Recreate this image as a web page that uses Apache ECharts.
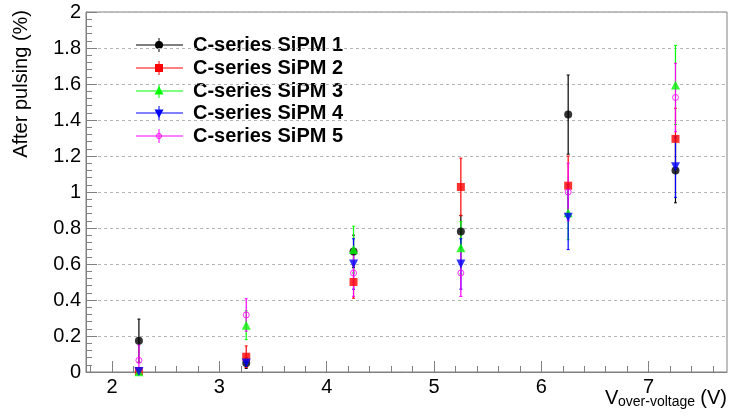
<!DOCTYPE html>
<html>
<head>
<meta charset="utf-8">
<script src="https://cdn.jsdelivr.net/npm/echarts@6/dist/echarts.min.js"></script>
<style>
  html, body { margin: 0; padding: 0; background: #fff; }
  #chart { width: 729px; height: 419px; }
</style>
</head>
<body>
<div id="chart"></div>
<script>
// over-voltage points (V)
const overVoltage = [2.25, 3.25, 4.25, 5.25, 6.25, 7.25]
const xTickLabels = [2, 3, 4, 5, 6, 7]

const seriesNames = ['C-series SiPM 1', 'C-series SiPM 2', 'C-series SiPM 3', 'C-series SiPM 4', 'C-series SiPM 5']

// after pulsing (%) and its error, one pair per SiPM
const sipm1 = [0.174, 0.05, 0.67, 0.78, 1.43, 1.12]
const sipm1Err = [0.12, 0.03, 0.09, 0.09, 0.22, 0.18]
const sipm2 = [0.005, 0.085, 0.50, 1.028, 1.035, 1.295]
const sipm2Err = [0.005, 0.06, 0.09, 0.16, 0.165, 0.17]
const sipm3 = [0.002, 0.26, 0.68, 0.69, 0.885, 1.595]
const sipm3Err = [0.002, 0.08, 0.13, 0.145, 0.15, 0.22]
const sipm4 = [0.003, 0.05, 0.60, 0.60, 0.86, 1.14]
const sipm4Err = [0.003, 0.02, 0.14, 0.14, 0.18, 0.17]
const sipm5 = [0.065, 0.317, 0.55, 0.55, 1.0, 1.525]
const sipm5Err = [0.085, 0.09, 0.13, 0.13, 0.16, 0.19]

const values = [sipm1, sipm2, sipm3, sipm4, sipm5]
const errors = [sipm1Err, sipm2Err, sipm3Err, sipm4Err, sipm5Err]

const colors = ['#000000', '#ff0000', '#00ff00', '#0000ff', '#ff00ff']
const markers = [
  { symbol: 'circle', size: 8, rotate: 0, fill: true },
  { symbol: 'rect', size: 8, rotate: 0, fill: true },
  { symbol: 'triangle', size: 9, rotate: 0, fill: true },
  { symbol: 'triangle', size: 9, rotate: 180, fill: true },
  { symbol: 'circle', size: 6, rotate: 0, fill: false }
]

const FONT = 'Liberation Sans, Arial, Helvetica, sans-serif'
const AXIS_COLOR = '#808080'

const minorX = []
for (let v = 1.8; v < 7.75; v += 0.2) minorX.push(Math.round(v * 10) / 10)

const chart = echarts.init(document.getElementById('chart'))

const errorBar = (color) => (params, api) => {
  const x = api.value(0)
  const y = api.value(1)
  const e = api.value(2)
  const top = api.coord([x, y + e])
  const bot = api.coord([x, y - e])
  return {
    type: 'group',
    children: [
      { type: 'line', shape: { x1: top[0], y1: top[1], x2: bot[0], y2: bot[1] }, style: { stroke: color, lineWidth: 1.2 } },
      { type: 'line', shape: { x1: top[0] - 1.5, y1: top[1], x2: top[0] + 1.5, y2: top[1] }, style: { stroke: color, lineWidth: 1 } },
      { type: 'line', shape: { x1: bot[0] - 1.5, y1: bot[1], x2: bot[0] + 1.5, y2: bot[1] }, style: { stroke: color, lineWidth: 1 } }
    ]
  }
}

const series = []
values.forEach((vals, i) => {
  const data = overVoltage.map((x, j) => [x, vals[j], errors[i][j]])
  series.push({
    type: 'custom',
    name: seriesNames[i] + ' err',
    xAxisIndex: 0,
    clip: true,
    renderItem: errorBar(colors[i]),
    data: data,
    silent: true
  })
  const m = markers[i]
  series.push({
    type: 'scatter',
    name: seriesNames[i],
    xAxisIndex: 0,
    clip: true,
    symbol: m.symbol,
    symbolSize: m.size,
    symbolRotate: m.rotate,
    itemStyle: m.fill
      ? { color: colors[i] }
      : { color: 'rgba(0,0,0,0)', borderColor: colors[i], borderWidth: 1 },
    data: data.map(d => [d[0], d[1]]),
    silent: true
  })
})

// legend drawn as graphics: line, vertical error tick, marker, text
const legendX = 136
const legendY = [45, 68, 91, 113, 136]
const legendGraphics = []
seriesNames.forEach((name, i) => {
  const y = legendY[i]
  const c = colors[i]
  const cx = 159
  legendGraphics.push({ type: 'line', shape: { x1: legendX, y1: y, x2: legendX + 47, y2: y }, style: { stroke: c, lineWidth: 1 } })
  legendGraphics.push({ type: 'line', shape: { x1: cx, y1: y - 7, x2: cx, y2: y + 7 }, style: { stroke: c, lineWidth: 1 } })
  if (i === 0) {
    legendGraphics.push({ type: 'circle', shape: { cx: cx, cy: y, r: 4 }, style: { fill: c } })
  } else if (i === 1) {
    legendGraphics.push({ type: 'rect', shape: { x: cx - 4, y: y - 4, width: 8, height: 8 }, style: { fill: c } })
  } else if (i === 2) {
    legendGraphics.push({ type: 'polygon', shape: { points: [[cx, y - 5], [cx + 4.5, y + 3.5], [cx - 4.5, y + 3.5]] }, style: { fill: c } })
  } else if (i === 3) {
    legendGraphics.push({ type: 'polygon', shape: { points: [[cx, y + 5], [cx + 4.5, y - 3.5], [cx - 4.5, y - 3.5]] }, style: { fill: c } })
  } else {
    legendGraphics.push({ type: 'circle', shape: { cx: cx, cy: y, r: 2.5 }, style: { fill: 'rgba(0,0,0,0)', stroke: c, lineWidth: 1 } })
  }
  legendGraphics.push({
    type: 'text', x: 193, y: y,
    style: { text: name, fill: '#000', font: 'bold 20px ' + FONT, textAlign: 'left', textVerticalAlign: 'middle' }
  })
})

const option = {
  animation: false,
  backgroundColor: '#fff',
  grid: {
    left: 86, top: 12, right: 2, bottom: 47,
    show: true, borderColor: AXIS_COLOR, borderWidth: 1, backgroundColor: 'transparent'
  },
  xAxis: [
    {
      type: 'value',
      min: 1.757,
      max: 7.73,
      axisLine: { show: true, lineStyle: { color: AXIS_COLOR } },
      axisTick: { show: true, inside: true, length: 11, customValues: xTickLabels, lineStyle: { color: AXIS_COLOR } },
      axisLabel: { customValues: xTickLabels, color: '#000', fontSize: 20, fontFamily: FONT, margin: 5 },
      splitLine: { show: false }
    },
    {
      type: 'value',
      min: 1.757,
      max: 7.73,
      position: 'bottom',
      axisLine: { show: false },
      axisTick: { show: true, inside: true, length: 6, customValues: minorX, lineStyle: { color: AXIS_COLOR } },
      axisLabel: { show: false },
      splitLine: { show: false }
    }
  ],
  yAxis: {
    type: 'value',
    min: 0,
    max: 2,
    interval: 0.2,
    axisLine: { show: true, lineStyle: { color: AXIS_COLOR } },
    axisTick: { show: true, inside: true, length: 11, lineStyle: { color: AXIS_COLOR } },
    minorTick: { show: true, splitNumber: 5, length: 6, lineStyle: { color: AXIS_COLOR } },
    axisLabel: { color: '#000', fontSize: 20, fontFamily: FONT, margin: 5 },
    splitLine: { show: true, lineStyle: { color: '#b4b4b4', type: [3, 3], width: 1 } }
  },
  series: series,
  graphic: [
    {
      type: 'text', x: 21.5, y: 10, rotation: Math.PI / 2,
      style: { text: 'After pulsing (%)', fill: '#000', font: '20px ' + FONT, textAlign: 'right', textVerticalAlign: 'middle' }
    },
    {
      type: 'text', x: 605, y: 398.5,
      style: { text: 'V', fill: '#000', font: '20px ' + FONT, textAlign: 'left', textVerticalAlign: 'middle' }
    },
    {
      type: 'text', x: 618, y: 402,
      style: { text: 'over-voltage', fill: '#000', font: '14px ' + FONT, textAlign: 'left', textVerticalAlign: 'middle' }
    },
    {
      type: 'text', x: 727, y: 398.5,
      style: { text: '(V)', fill: '#000', font: '20px ' + FONT, textAlign: 'right', textVerticalAlign: 'middle' }
    }
  ].concat(legendGraphics)
}

chart.setOption(option)
</script>
</body>
</html>
